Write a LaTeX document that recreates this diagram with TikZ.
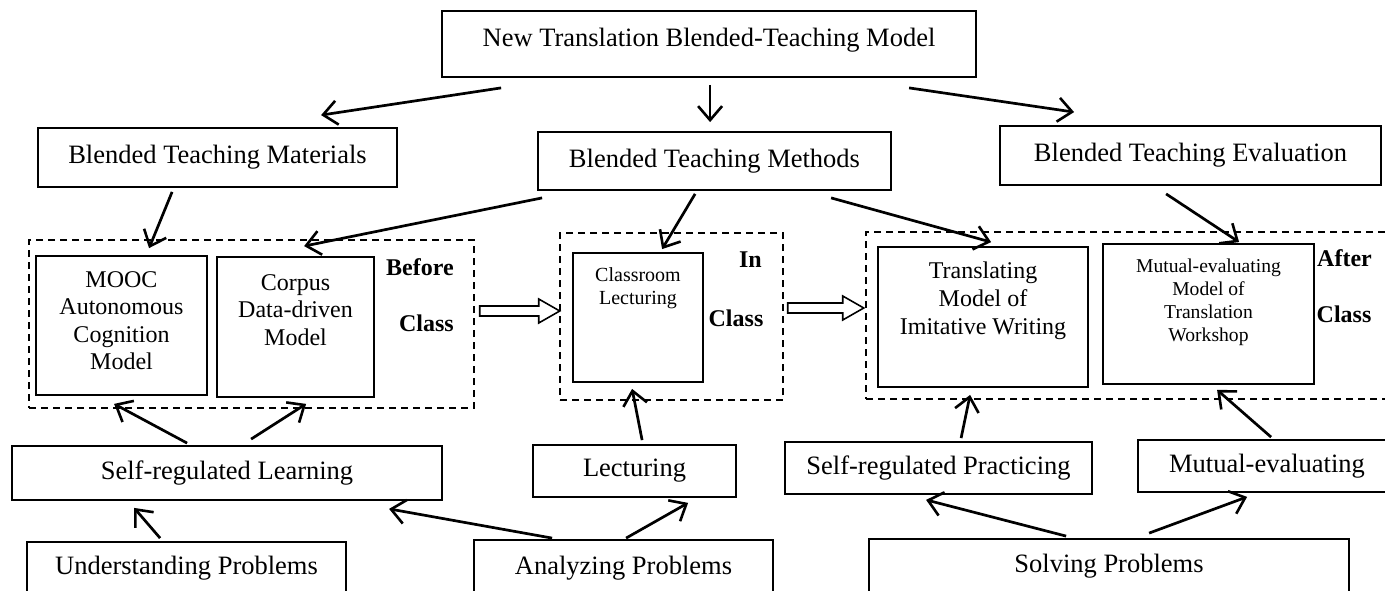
\documentclass[tikz,border=0pt]{standalone}
\usepackage{fontspec}
\setmainfont{Liberation Serif}
\usetikzlibrary{arrows.meta,calc}
\begin{document}
\begin{tikzpicture}[x=1pt,y=-1pt,
  box/.style={draw, line width=1.8pt, inner sep=0pt, font=\fontsize{26.5}{30}\selectfont},
  dbox/.style={draw, line width=1.5pt, dash pattern=on 7pt off 5pt, inner sep=0pt},
  arr/.style={line width=2.7pt, -{Straight Barb[length=14pt,width=24pt,line width=2.6pt]}},
  blockarr/.style={draw, line width=1.6pt, fill=white},
  tfour/.style={inner sep=0pt, align=center, font=\fontsize{24}{27.6}\selectfont},
  ttwenty/.style={inner sep=0pt, align=center, font=\fontsize{20}{23}\selectfont},
  teight/.style={inner sep=0pt, align=center, font=\fontsize{19.6}{23}\selectfont},
  lab/.style={inner sep=0pt, font=\fontsize{24}{28}\selectfont\bfseries}
]
\useasboundingbox (0,0) rectangle (1385,591);
\clip (0,0) rectangle (1385,591);

% dashed groups
\node[dbox, minimum width=445, minimum height=168] (before) at (251.5,324) {};
\node[dbox, minimum width=223, minimum height=167] (in) at (671.5,316.5) {};
\node[dbox, minimum width=530, minimum height=167] (after) at (1131,315.5) {};

% top levels
\node[box, minimum width=534, minimum height=66, text depth=12.5pt] (top) at (709,44) {New Translation Blended-Teaching Model};
\node[box, minimum width=359, minimum height=59] (btm) at (217.5,157.5) {Blended Teaching Materials};
\node[box, minimum width=353, minimum height=58] (bmeth) at (714.5,161) {Blended Teaching Methods};
\node[box, minimum width=381, minimum height=59] (bte) at (1190.5,155.5) {Blended Teaching Evaluation};

% inner model boxes
\node[box, minimum width=171, minimum height=139] (mooc) at (121.5,325.5) {};
\node[box, minimum width=157, minimum height=140] (corpus) at (295.5,327) {};
\node[box, minimum width=130, minimum height=129] (class) at (638,317.5) {};
\node[box, minimum width=210, minimum height=140] (trans) at (983,317) {};
\node[box, minimum width=211, minimum height=140] (mutual) at (1208.5,314) {};

\node[tfour, anchor=north] (moocT) at ([yshift=-16pt]mooc.north) {MOOC\\Autonomous\\Cognition\\Model};
\node[tfour, anchor=north] (corpusT) at ([yshift=-18pt]corpus.north) {Corpus\\Data-driven\\Model};
\node[ttwenty, anchor=north] (classT) at ([yshift=-15pt]class.north) {Classroom\\Lecturing};
\node[tfour, anchor=north] (transT) at ([yshift=-16pt]trans.north) {Translating\\Model of\\Imitative Writing};
\node[teight, anchor=north] (mutualT) at ([yshift=-16pt]mutual.north) {Mutual-evaluating\\Model of\\Translation\\Workshop};

% phase labels
\node[lab] (bef1) at (420,267) {Before};
\node[lab] (bef2) at (426.5,323) {Class};
\node[lab] (in1) at (750.5,260) {In};
\node[lab] (in2) at (736,318) {Class};
\node[lab] (aft1) at (1344.5,258) {After};
\node[lab] (aft2) at (1344,314) {Class};

% lower boxes
\node[box, minimum width=430, minimum height=54] (srl) at (227,473) {Self-regulated Learning};
\node[box, minimum width=203, minimum height=52] (lect) at (634.5,471) {Lecturing};
\node[box, minimum width=307, minimum height=52] (srp) at (938.5,468) {Self-regulated Practicing};
\node[box, minimum width=258, minimum height=52] (me) at (1267,466) {Mutual-evaluating};
\node[box, minimum width=319, minimum height=52] (up) at (186.5,568) {Understanding Problems};
\node[box, minimum width=299, minimum height=56] (ap) at (623.5,568) {Analyzing Problems};
\node[box, minimum width=480, minimum height=54] (solve) at (1109,566) {Solving Problems};

% block arrows between phases
\coordinate (ba1) at ([shift={(5,-13)}]before.east);
\draw[blockarr] (ba1) ++(0,-5) -- ++(59,0) -- ++(0,-7) -- ++(21,12) -- ++(-21,12) -- ++(0,-7) -- ++(-59,0) -- cycle;
\coordinate (ba2) at ([shift={(4,-8.5)}]in.east);
\draw[blockarr] (ba2) ++(0,-5) -- ++(55,0) -- ++(0,-7) -- ++(21,12) -- ++(-21,12) -- ++(0,-7) -- ++(-55,0) -- cycle;

% arrows
\draw[arr] ([shift={(60,10)}]top.south west) -- ([shift={(284,-12)}]btm.north west);
\draw[arr] ([shift={(269,7)}]top.south west) -- ([shift={(173,-9)}]bmeth.north west);
\draw[arr] ([shift={(468,10)}]top.south west) -- ([shift={(75,-13)}]bte.north west);
\draw[arr] ([shift={(135,4)}]btm.south west) -- ([shift={(114,-7)}]mooc.north west);
\draw[arr] ([shift={(5,7)}]bmeth.south west) -- ([shift={(88,-10)}]corpus.north west);
\draw[arr] ([shift={(158,3)}]bmeth.south west) -- ([shift={(90,-3)}]class.north west);
\draw[arr] ([shift={(294,7)}]bmeth.south west) -- ([shift={(114,-4)}]trans.north west);
\draw[arr] ([shift={(167,8)}]bte.south west) -- ([shift={(137,-1)}]mutual.north west);
\draw[arr] ([shift={(176,-2)}]srl.north west) -- ([shift={(79,8)}]mooc.south west);
\draw[arr] ([shift={(240,-6)}]srl.north west) -- ([shift={(90,6)}]corpus.south west);
\draw[arr] ([shift={(134,-3)}]up.north west) -- ([shift={(123,7)}]srl.south west);
\draw[arr] ([shift={(79,-1)}]ap.north west) -- ([shift={(378,8)}]srl.south west);
\draw[arr] ([shift={(153,-1)}]ap.north west) -- ([shift={(156,5)}]lect.south west);
\draw[arr] ([shift={(110,-4)}]lect.north west) -- ([shift={(60,6)}]class.south west);
\draw[arr] ([shift={(198,-2)}]solve.north west) -- ([shift={(142,5)}]srp.south west);
\draw[arr] ([shift={(281,-5)}]solve.north west) -- ([shift={(110,4)}]me.south west);
\draw[arr] ([shift={(177,-3)}]srp.north west) -- ([shift={(93,7)}]trans.south west);
\draw[arr] ([shift={(134,-2)}]me.north west) -- ([shift={(115,5)}]mutual.south west);
\end{tikzpicture}
\end{document}
